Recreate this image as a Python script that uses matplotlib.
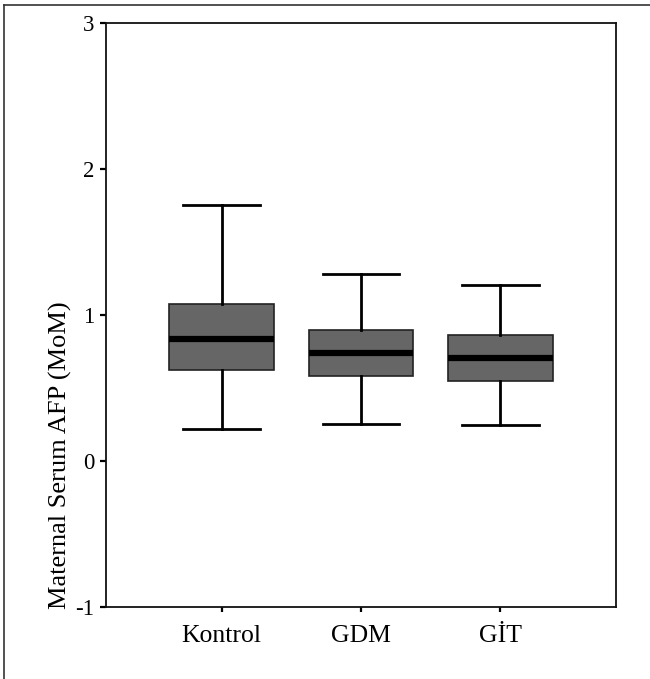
import matplotlib
matplotlib.use("Agg")
import matplotlib.pyplot as plt
from matplotlib.lines import Line2D

categories = ["Kontrol", "GDM", "GİT"]
whisker_low = [0.22, 0.255, 0.25]
q1 = [0.62, 0.582, 0.548]
median = [0.833, 0.737, 0.705]
q3 = [1.077, 0.897, 0.865]
whisker_high = [1.753, 1.279, 1.203]
y_ticks = [-1, 0, 1, 2, 3]
y_label = "Maternal Serum AFP (MoM)"

plt.rcParams['font.family'] = ['Liberation Serif', 'DejaVu Serif']

W, H = 650, 679
fig = plt.figure(figsize=(W / 100, H / 100), dpi=100)
ax = fig.add_axes([106 / W, 1 - 607 / H, (616 - 106) / W, (607 - 23) / H])

stats = []
for i, c in enumerate(categories):
    stats.append(dict(label=c, whislo=whisker_low[i], q1=q1[i], med=median[i],
                      q3=q3[i], whishi=whisker_high[i], fliers=[]))

positions = list(range(1, len(categories) + 1))
ax.bxp(stats, positions=positions, widths=0.75, patch_artist=True,
       showfliers=False,
       boxprops=dict(facecolor="#666666", edgecolor="#222222", linewidth=1.2),
       medianprops=dict(color="black", linewidth=4.5, solid_capstyle="butt"),
       whiskerprops=dict(color="black", linewidth=2),
       capprops=dict(color="black", linewidth=2),
       capwidths=0.55)

ax.set_xlim(0.17, 3.83)
ax.set_ylim(-1, 3)
ax.set_yticks(y_ticks)
ax.set_yticklabels([str(t) for t in y_ticks])
ax.set_xticks(positions)
ax.set_xticklabels(categories)
ax.tick_params(axis="y", direction="out", length=4.3, width=1.6, labelsize=16.5, pad=4)
ax.tick_params(axis="x", direction="out", length=3.6, width=1.6, labelsize=18.5, pad=9)
for s in ax.spines.values():
    s.set_linewidth(1.3)
    s.set_color("#111111")

fig.text(60 / W, 1 - 609 / H, y_label, rotation=90, ha="center", va="bottom",
         fontsize=19)

# outer figure frame (left and top edges visible)
fig.add_artist(Line2D([4 / W, 4 / W], [0, 1 - 5 / H], transform=fig.transFigure,
                      color="#333333", linewidth=1.2))
fig.add_artist(Line2D([4 / W, 1], [1 - 5 / H, 1 - 5 / H], transform=fig.transFigure,
                      color="#333333", linewidth=1.2))

fig.savefig("out.png", dpi=100)
